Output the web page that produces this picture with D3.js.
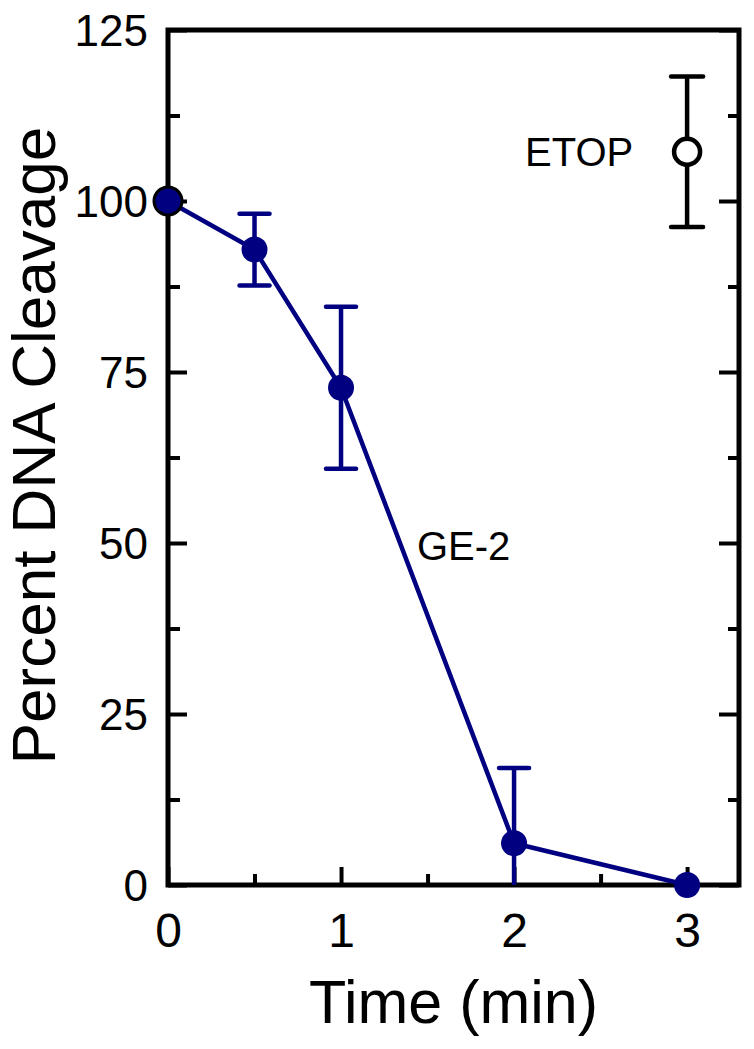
<!DOCTYPE html>
<html>
<head>
<meta charset="utf-8">
<script src="https://cdn.jsdelivr.net/npm/d3@7"></script>
<style>
  body { margin: 0; background: #fff; }
  text { font-family: "Liberation Sans", Arial, sans-serif; fill: #000; }
</style>
</head>
<body>
<div id="chart"></div>
<script>
// data
var times = [0, 0.5, 1, 2, 3];
var ge2 = [100, 92.9, 72.7, 6.1, 0];
var ge2Err = [0, 5.25, 11.85, 11, 0];
var etopTime = [3];
var etop = [107.2];
var etopErr = [11];
var xTicks = [0, 1, 2, 3];
var xMinor = [0.5, 1.5, 2.5];
var yTicks = [0, 25, 50, 75, 100, 125];
var yMinor = [12.5, 37.5, 62.5, 87.5, 112.5];

var svgWidth = 754, svgHeight = 1049;
var margin = { top: 30, right: 15, bottom: 164, left: 168 };
var width = svgWidth - margin.left - margin.right;
var height = svgHeight - margin.top - margin.bottom;

var svg = d3.select("#chart").append("svg")
  .attr("width", svgWidth)
  .attr("height", svgHeight);

var g = svg.append("g")
  .attr("transform", `translate(${margin.left}, ${margin.top})`);

var x = d3.scaleLinear().domain([0, 3.3]).range([0, width]);
var y = d3.scaleLinear().domain([0, 125]).range([height, 0]);

// axes (ticks point inward)
function styleAxis(sel) {
  sel.select(".domain").remove();
  sel.selectAll(".tick line").attr("stroke", "#000").attr("stroke-width", 4);
}

g.append("g")
  .attr("transform", `translate(0,${height})`)
  .call(d3.axisBottom(x).tickValues(xTicks).tickFormat(d3.format("d")).tickSize(-18).tickPadding(28))
  .call(styleAxis)
  .selectAll("text").style("font-size", "48px");

g.append("g")
  .attr("transform", `translate(0,${height})`)
  .call(d3.axisBottom(x).tickValues(xMinor).tickFormat("").tickSize(-11))
  .call(styleAxis);

g.append("g")
  .call(d3.axisLeft(y).tickValues(yTicks).tickFormat(d3.format("d")).tickSize(-19).tickPadding(20))
  .call(styleAxis)
  .selectAll("text").style("font-size", "44px").attr("dy", "0.36em");

g.append("g")
  .call(d3.axisLeft(y).tickValues(yMinor).tickFormat("").tickSize(-12))
  .call(styleAxis);

g.append("g")
  .attr("transform", `translate(${width},0)`)
  .call(d3.axisRight(y).tickValues(yTicks).tickFormat("").tickSize(-20))
  .call(styleAxis);

g.append("g")
  .attr("transform", `translate(${width},0)`)
  .call(d3.axisRight(y).tickValues(yMinor).tickFormat("").tickSize(-11))
  .call(styleAxis);

// frame
g.append("rect")
  .attr("x", 0).attr("y", 0)
  .attr("width", width).attr("height", height)
  .attr("fill", "none")
  .attr("stroke", "#000")
  .attr("stroke-width", 5);

// axis titles
g.append("text")
  .attr("x", width / 2)
  .attr("y", height + 138)
  .attr("text-anchor", "middle")
  .style("font-size", "61px")
  .text("Time (min)");

g.append("text")
  .attr("transform", "rotate(-90)")
  .attr("x", -(445.5 - margin.top))
  .attr("y", 55 - margin.left)
  .attr("text-anchor", "middle")
  .style("font-size", "62px")
  .text("Percent DNA Cleavage");

// GE-2 series
var navy = "#000080";
var ge2Data = times.map(function(t, i) { return { t: t, v: ge2[i], e: ge2Err[i] }; });

g.append("path")
  .datum(ge2Data)
  .attr("fill", "none")
  .attr("stroke", navy)
  .attr("stroke-width", 4.5)
  .attr("d", d3.line().x(d => x(d.t)).y(d => y(d.v)));

var errBars = g.selectAll(".ge2err")
  .data(ge2Data.filter(d => d.e > 0))
  .enter().append("g")
  .attr("class", "ge2err")
  .attr("stroke", navy)
  .attr("stroke-width", 4.5);

errBars.append("line")
  .attr("x1", d => x(d.t)).attr("x2", d => x(d.t))
  .attr("y1", d => y(d.v + d.e)).attr("y2", d => y(Math.max(0, d.v - d.e)));
errBars.append("line")
  .attr("stroke-linecap", "round")
  .attr("x1", d => x(d.t) - 15).attr("x2", d => x(d.t) + 15)
  .attr("y1", d => y(d.v + d.e)).attr("y2", d => y(d.v + d.e));
errBars.filter(d => d.v - d.e > 0).append("line")
  .attr("stroke-linecap", "round")
  .attr("x1", d => x(d.t) - 15).attr("x2", d => x(d.t) + 15)
  .attr("y1", d => y(d.v - d.e)).attr("y2", d => y(d.v - d.e));

g.selectAll(".ge2pt")
  .data(ge2Data)
  .enter().append("circle")
  .attr("class", "ge2pt")
  .attr("cx", d => x(d.t))
  .attr("cy", d => y(d.v))
  .attr("r", (d, i) => i === 0 ? 14 : 13)
  .attr("fill", navy)
  .attr("stroke", (d, i) => i === 0 ? "#000" : "none")
  .attr("stroke-width", 3);

// ETOP point
var etopData = etopTime.map(function(t, i) { return { t: t, v: etop[i], e: etopErr[i] }; });
var etopG = g.selectAll(".etop")
  .data(etopData)
  .enter().append("g")
  .attr("class", "etop")
  .attr("stroke", "#000")
  .attr("stroke-width", 4.5);

etopG.append("line")
  .attr("x1", d => x(d.t)).attr("x2", d => x(d.t))
  .attr("y1", d => y(d.v + d.e)).attr("y2", d => y(d.v - d.e));
etopG.append("line")
  .attr("stroke-linecap", "round")
  .attr("x1", d => x(d.t) - 16).attr("x2", d => x(d.t) + 16)
  .attr("y1", d => y(d.v + d.e)).attr("y2", d => y(d.v + d.e));
etopG.append("line")
  .attr("stroke-linecap", "round")
  .attr("x1", d => x(d.t) - 16).attr("x2", d => x(d.t) + 16)
  .attr("y1", d => y(d.v - d.e)).attr("y2", d => y(d.v - d.e));
etopG.append("circle")
  .attr("cx", d => x(d.t))
  .attr("cy", d => y(d.v))
  .attr("r", 13)
  .attr("fill", "#fff");

// series labels
g.append("text")
  .attr("x", 525 - margin.left)
  .attr("y", 166 - margin.top)
  .style("font-size", "40px")
  .text("ETOP");

g.append("text")
  .attr("x", 417 - margin.left)
  .attr("y", 560 - margin.top)
  .style("font-size", "40px")
  .text("GE-2");
</script>
</body>
</html>
